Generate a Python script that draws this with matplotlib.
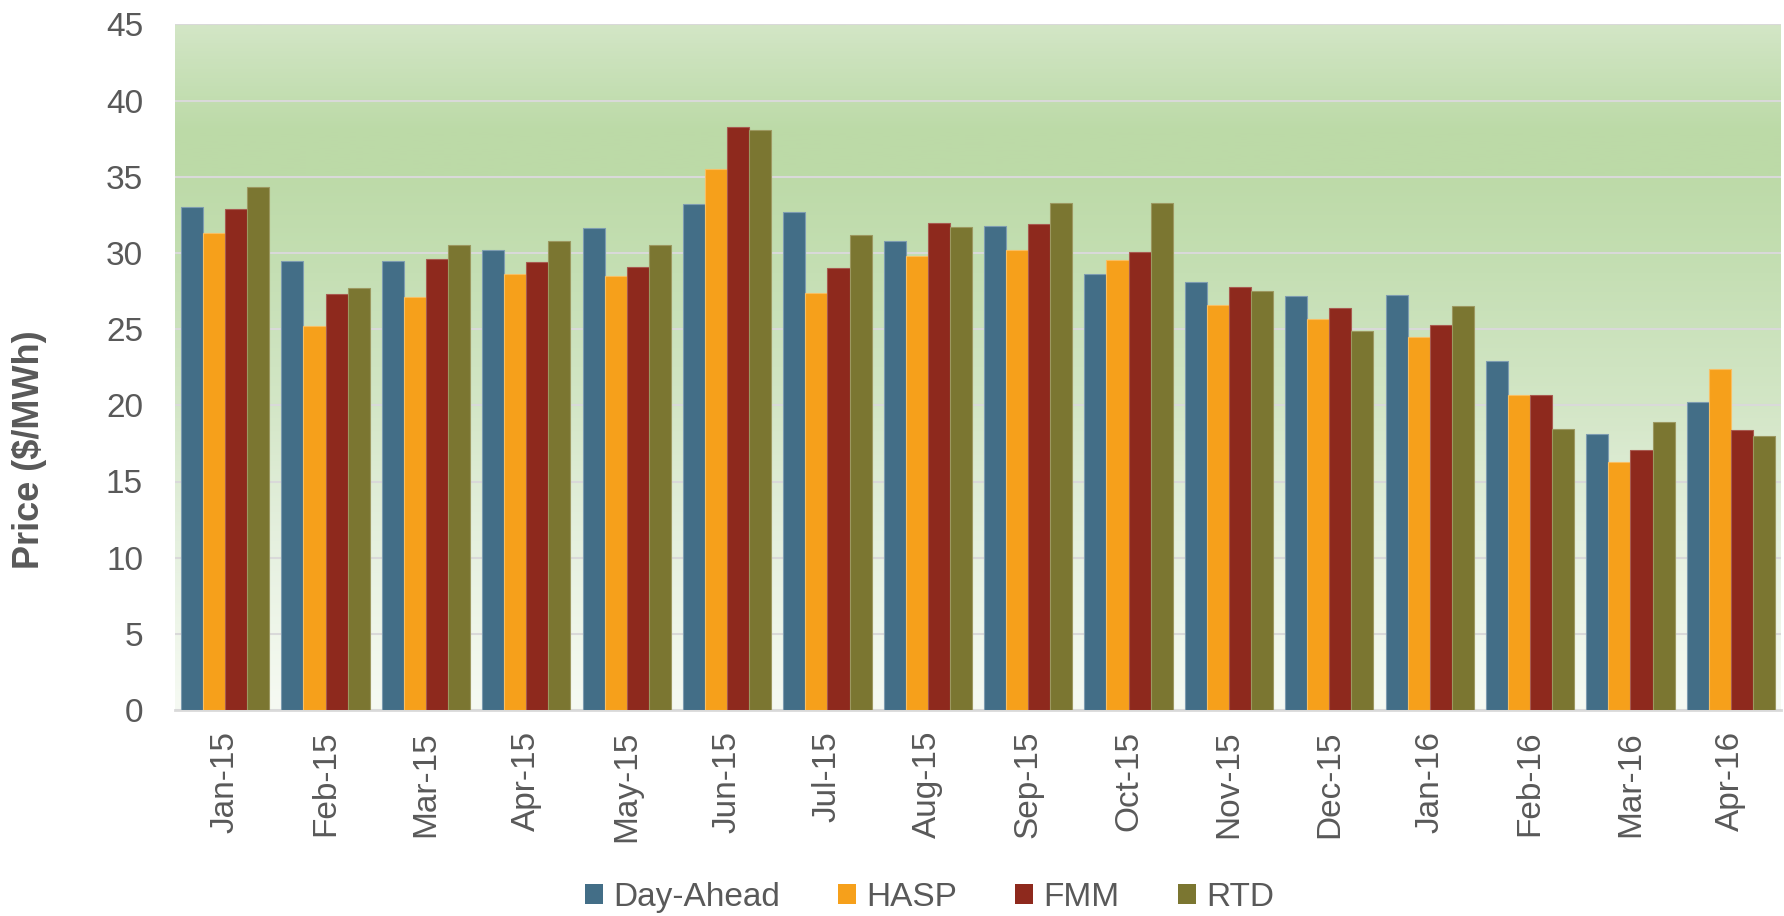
import numpy as np
import matplotlib
matplotlib.use("Agg")
import matplotlib.pyplot as plt
from matplotlib.patches import Rectangle
from matplotlib.colors import LinearSegmentedColormap

# ---- data ----
months = ["Jan-15", "Feb-15", "Mar-15", "Apr-15", "May-15", "Jun-15", "Jul-15", "Aug-15",
          "Sep-15", "Oct-15", "Nov-15", "Dec-15", "Jan-16", "Feb-16", "Mar-16", "Apr-16"]
day_ahead = [33.0, 29.5, 29.45, 30.2, 31.65, 33.2, 32.7, 30.8, 31.8, 28.6, 28.1, 27.2, 27.25, 22.9, 18.1, 20.2]
hasp      = [31.3, 25.2, 27.1, 28.6, 28.5, 35.5, 27.35, 29.8, 30.2, 29.55, 26.6, 25.7, 24.5, 20.7, 16.3, 22.4]
fmm       = [32.9, 27.3, 29.6, 29.4, 29.1, 38.3, 29.0, 32.0, 31.9, 30.05, 27.8, 26.4, 25.25, 20.7, 17.1, 18.35]
rtd       = [34.3, 27.7, 30.55, 30.8, 30.5, 38.1, 31.2, 31.7, 33.3, 33.3, 27.5, 24.85, 26.5, 18.45, 18.9, 18.0]
series_names = ["Day-Ahead", "HASP", "FMM", "RTD"]
yticks = [0, 5, 10, 15, 20, 25, 30, 35, 40, 45]

colors = ["#436e87", "#f6a01b", "#8e291d", "#7b7631"]
edges = ["#7d9cb0", "#f8bf63", "#a85a50", "#9c9860"]
text_color = "#595959"

plt.rcParams['font.family'] = ['Liberation Sans', 'DejaVu Sans']

W, H = 1784, 916
fig = plt.figure(figsize=(W / 100, H / 100), dpi=100)
left, right, top, bottom = 175, 1781, 24.5, 710
ax = fig.add_axes([left / W, 1 - bottom / H, (right - left) / W, (bottom - top) / H])

# background gradient
stops_v = [0, 5, 10, 15, 20, 25, 30, 35, 38, 41, 45]
stops_c = [(246, 250, 243), (239, 246, 234), (231, 241, 225), (222, 236, 213), (211, 230, 198),
           (203, 226, 188), (195, 222, 177), (189, 218, 168), (188, 218, 167), (197, 223, 180),
           (211, 230, 198)]
cmap = LinearSegmentedColormap.from_list(
    "bg", [(v / 45, tuple(c / 255 for c in col)) for v, col in zip(stops_v, stops_c)])
grad = np.linspace(0, 1, 512).reshape(-1, 1)
ax.imshow(grad, cmap=cmap, aspect='auto', extent=[-0.5, 15.5, 0, 45], origin='lower', zorder=0)

x = np.arange(len(months))
bw = 0.22
data = [day_ahead, hasp, fmm, rtd]
for j, (vals, c, ec) in enumerate(zip(data, colors, edges)):
    ax.bar(x + (j - 1.5) * bw, vals, width=bw, color=c, edgecolor=ec, linewidth=0.8, zorder=3)

ax.set_xlim(-0.5, 15.5)
ax.set_ylim(0, 45)
ax.set_yticks(yticks)
ax.set_yticklabels([str(t) for t in yticks])
ax.set_xticks(x)
ax.set_xticklabels(months, rotation=90)
ax.yaxis.grid(True, color="#d9d9d9", linewidth=1.5, zorder=1)
ax.set_axisbelow(True)
for s in ["left", "right", "top"]:
    ax.spines[s].set_visible(False)
ax.spines["bottom"].set_color("#d9d9d9")
ax.spines["bottom"].set_linewidth(2)
ax.tick_params(axis='both', length=0, labelsize=24, colors=text_color)
ax.tick_params(axis='y', pad=23)
ax.tick_params(axis='x', pad=15)
ax.axhline(45, color="#d9d9d9", linewidth=1.5, zorder=1)

fig.text(30 / W, 1 - 450 / H, "Price ($/MWh)", rotation=90, fontsize=26, fontweight='bold',
         color=text_color, ha='center', va='center')

handles = [Rectangle((0, 0), 1, 1, facecolor=c, edgecolor='none') for c in colors]
leg = fig.legend(handles, series_names, loc='center', ncol=4, frameon=False,
                 bbox_to_anchor=(929.5 / W, 1 - 897.5 / H), fontsize=24,
                 handlelength=0.54, handleheight=0.54, handletextpad=0.3, columnspacing=1.75,
                 borderpad=0, borderaxespad=0)
for t in leg.get_texts():
    t.set_color(text_color)

fig.savefig("out.png", dpi=100)
